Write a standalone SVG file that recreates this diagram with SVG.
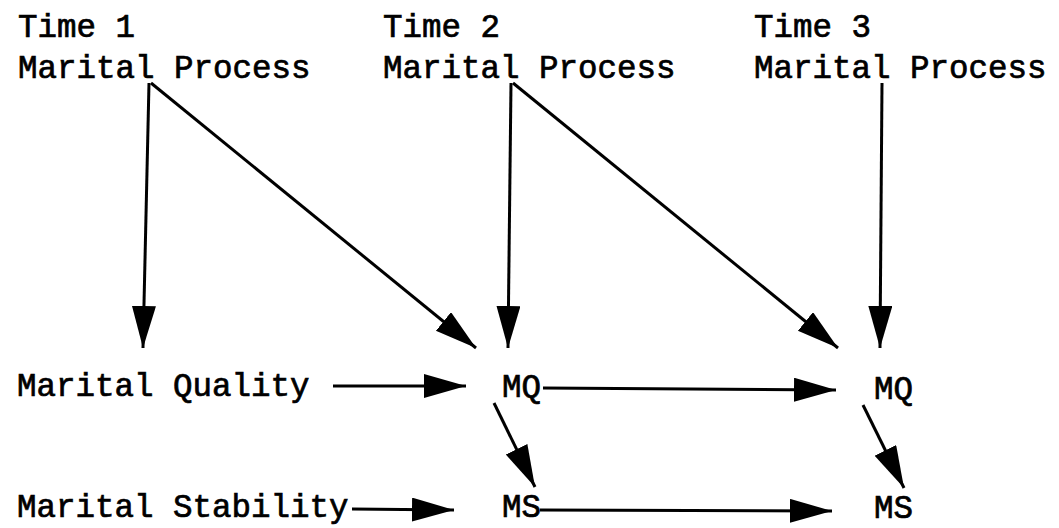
<svg xmlns="http://www.w3.org/2000/svg" width="1059" height="528" viewBox="0 0 1059 528">
  <style>
    text { font-family: "Liberation Mono", "Courier New", monospace; font-size: 32.5px; fill: #000; stroke: #000; stroke-width: 0.7px; }
    .c line { stroke: #000; stroke-width: 3; fill: none; marker-end: url(#ah); }
  </style>
  <defs>
    <marker id="ah" markerUnits="userSpaceOnUse" markerWidth="44" markerHeight="26" refX="42" refY="12" orient="auto" viewBox="0 0 44 26">
      <path d="M0,0 L42,12 L0,24 Z" fill="#000"/>
    </marker>
  </defs>
  <rect width="1059" height="528" fill="#fff"/>
  <g id="t1"><text x="18" y="37">Time 1</text><text x="18" y="78">Marital Process</text></g>
  <g id="t2"><text x="383" y="37">Time 2</text><text x="383" y="78">Marital Process</text></g>
  <g id="t3"><text x="754" y="37">Time 3</text><text x="754" y="78">Marital Process</text></g>
  <g id="mq0"><text x="17" y="396">Marital Quality</text></g>
  <g id="ms0"><text x="17" y="517">Marital Stability</text></g>
  <g id="mq1"><text x="502" y="397">MQ</text></g>
  <g id="ms1"><text x="502" y="517">MS</text></g>
  <g id="mq2"><text x="874" y="399">MQ</text></g>
  <g id="ms2"><text x="874" y="518">MS</text></g>
  <g class="c" id="connectors">
    <line x1="149" y1="83" x2="143" y2="348"/>
    <line x1="151" y1="83" x2="476" y2="348"/>
    <line x1="511" y1="83" x2="508" y2="348"/>
    <line x1="513" y1="83" x2="838" y2="348"/>
    <line x1="882" y1="83" x2="880" y2="348"/>
    <line x1="333" y1="386" x2="466" y2="386"/>
    <line x1="543" y1="388" x2="836" y2="390"/>
    <line x1="494" y1="403" x2="535" y2="487"/>
    <line x1="863" y1="405" x2="904" y2="488"/>
    <line x1="352" y1="509" x2="454" y2="510"/>
    <line x1="540" y1="510" x2="832" y2="511"/>
  </g>
</svg>
